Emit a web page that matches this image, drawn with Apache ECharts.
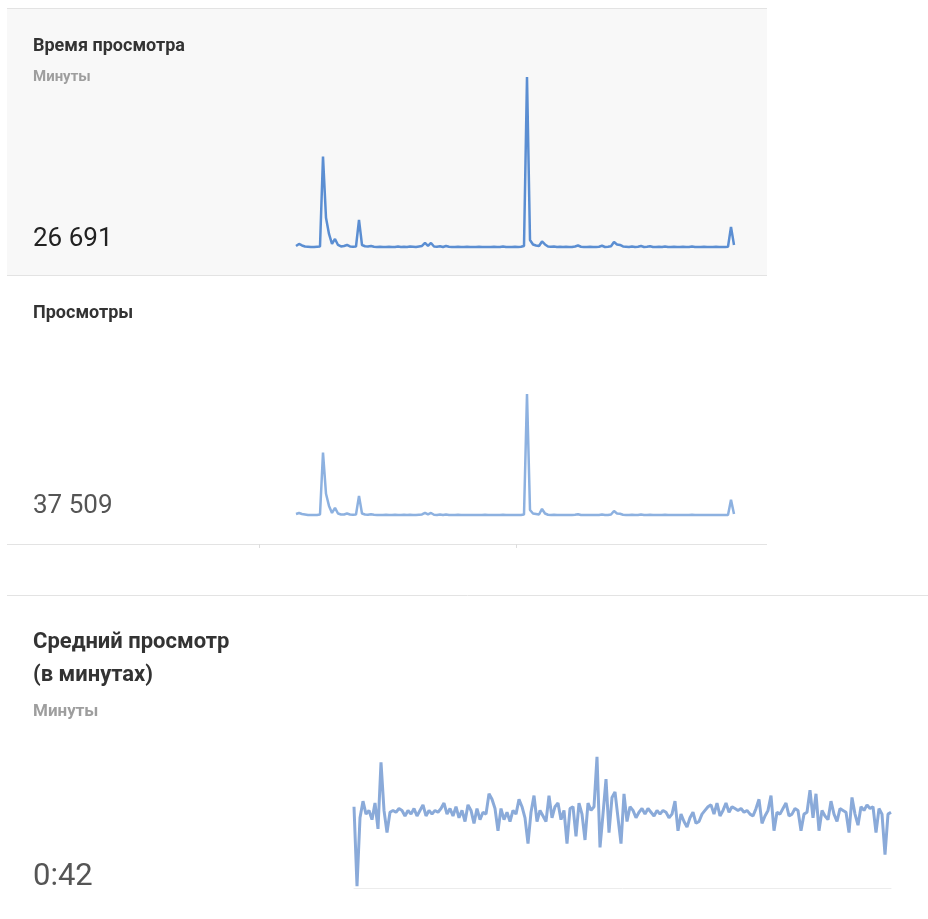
<!DOCTYPE html>
<html>
<head>
<meta charset="utf-8">
<script src="https://cdn.jsdelivr.net/npm/echarts@6/dist/echarts.min.js"></script>
<style>
  html, body { margin: 0; padding: 0; background: #fff; }
  #chart { width: 928px; height: 919px; }
</style>
</head>
<body>
<div id="chart"></div>
<script>
// время просмотра, минуты по дням
const watchMinutes = [
  40, 80, 50, 30, 25, 20, 20, 25, 30, 1820, 600, 280, 80, 180, 60, 30, 40, 60, 30, 25,
  30, 560, 60, 35, 30, 40, 25, 20, 25, 20, 20, 25, 20, 20, 30, 20, 25, 20, 30, 25,
  20, 30, 40, 100, 40, 100, 30, 25, 35, 20, 40, 25, 20, 20, 25, 20, 20, 25, 20, 20,
  20, 25, 20, 20, 20, 20, 25, 20, 20, 30, 20, 20, 20, 25, 20, 25, 40, 3400, 160, 70,
  50, 40, 130, 70, 30, 25, 30, 20, 25, 20, 25, 20, 20, 30, 50, 25, 20, 20, 25, 20,
  20, 25, 45, 20, 25, 35, 120, 70, 60, 30, 25, 20, 30, 20, 25, 40, 20, 25, 35, 20,
  20, 25, 20, 30, 20, 20, 25, 20, 20, 25, 20, 20, 30, 20, 20, 20, 25, 20, 20, 20,
  25, 20, 20, 20, 25, 420, 60
]

// просмотры по дням
const viewCounts = [
  40, 60, 40, 30, 20, 20, 20, 20, 30, 1260, 440, 200, 60, 160, 50, 30, 30, 50, 30, 25,
  30, 400, 50, 30, 25, 35, 25, 20, 20, 20, 25, 20, 20, 25, 20, 20, 25, 20, 25, 20,
  20, 25, 30, 60, 30, 60, 25, 20, 30, 20, 30, 20, 20, 20, 25, 20, 20, 20, 20, 20,
  20, 20, 20, 25, 20, 20, 20, 20, 20, 25, 20, 20, 20, 20, 20, 20, 30, 2420, 120, 50,
  40, 30, 140, 50, 25, 20, 25, 20, 20, 20, 20, 20, 20, 25, 35, 20, 20, 20, 20, 20,
  20, 20, 30, 20, 20, 30, 100, 50, 45, 25, 20, 20, 25, 20, 20, 30, 20, 20, 25, 20,
  20, 20, 20, 25, 20, 20, 20, 20, 20, 20, 20, 20, 25, 20, 20, 20, 20, 20, 20, 20,
  20, 20, 20, 20, 20, 320, 40
]

// средний просмотр, секунды
const avgViewSeconds = [
  44, 1, 38, 47, 40, 42, 37, 46, 32, 68, 42, 30, 41, 42, 41, 43, 42, 39, 42, 40,
  43, 39, 42, 45, 39, 42, 40, 42, 41, 43, 46, 40, 43, 39, 44, 38, 42, 36, 45, 42,
  35, 43, 37, 41, 40, 51, 48, 43, 31, 43, 37, 41, 36, 42, 40, 48, 44, 38, 24, 41,
  50, 36, 42, 39, 36, 50, 38, 44, 46, 37, 42, 24, 43, 44, 28, 46, 40, 26, 46, 42,
  44, 71, 22, 40, 59, 30, 49, 52, 38, 24, 51, 36, 44, 42, 38, 41, 43, 40, 43, 41,
  39, 42, 40, 42, 41, 38, 40, 47, 31, 40, 36, 33, 38, 41, 35, 36, 40, 42, 44, 45,
  40, 46, 39, 42, 46, 41, 44, 43, 42, 43, 41, 42, 40, 39, 43, 48, 35, 39, 42, 50,
  31, 41, 40, 43, 46, 39, 40, 43, 42, 31, 40, 41, 53, 38, 51, 31, 42, 39, 37, 47,
  40, 36, 43, 42, 41, 30, 49, 40, 34, 44, 42, 45, 43, 44, 30, 43, 40, 18, 40, 41
]

const FONT = 'Roboto, "Noto Sans", sans-serif'

const chart = echarts.init(document.getElementById('chart'))

function idx(arr) {
  return arr.map((_, i) => String(i))
}

function txt(x, y, text, size, color, weight) {
  return {
    type: 'text', left: x, top: y,
    style: { text, fontSize: size, fill: color, fontWeight: weight, fontFamily: FONT }
  }
}

function hline(x1, x2, y, color) {
  return {
    type: 'line',
    shape: { x1, y1: y, x2, y2: y },
    style: { stroke: color, lineWidth: 1 },
    silent: true
  }
}

const hiddenX = (gi, data, showLine) => ({
  type: 'category', gridIndex: gi, data, boundaryGap: false,
  axisLine: { show: !!showLine, lineStyle: { color: '#ececec', width: 1 } },
  axisTick: { show: false }, axisLabel: { show: false }, splitLine: { show: false }
})

const hiddenY = (gi, max) => ({
  type: 'value', gridIndex: gi, min: 0, max,
  axisLine: { show: false }, axisTick: { show: false },
  axisLabel: { show: false }, splitLine: { show: false }
})

chart.setOption({
  animation: false,
  backgroundColor: '#ffffff',
  grid: [
    { left: 296, width: 438, top: 77, height: 171 },
    { left: 296, width: 438, top: 394, height: 122 },
    { left: 354, width: 537, top: 755, height: 133 }
  ],
  xAxis: [
    hiddenX(0, idx(watchMinutes)),
    hiddenX(1, idx(viewCounts)),
    hiddenX(2, idx(avgViewSeconds), true)
  ],
  yAxis: [
    hiddenY(0, 3400),
    hiddenY(1, 2420),
    hiddenY(2, 72)
  ],
  graphic: [
    // фон верхней карточки
    {
      type: 'rect', z: -10, silent: true,
      shape: { x: 7, y: 9, width: 760, height: 266 },
      style: { fill: '#f8f8f8' }
    },
    hline(7, 767, 8.5, '#e3e3e3'),
    hline(7, 767, 275.5, '#e3e3e3'),
    hline(7, 767, 544.5, '#e3e3e3'),
    {
      type: 'line', silent: true,
      shape: { x1: 259.5, y1: 544, x2: 259.5, y2: 548 },
      style: { stroke: '#dddddd', lineWidth: 1 }
    },
    {
      type: 'line', silent: true,
      shape: { x1: 516.5, y1: 544, x2: 516.5, y2: 548 },
      style: { stroke: '#dddddd', lineWidth: 1 }
    },
    hline(7, 928, 595.5, '#e3e3e3'),

    txt(33, 37, 'Время просмотра', 18, '#333333', 'bold'),
    txt(33, 70, 'Минуты', 15, '#9e9e9e', 'bold'),
    txt(33, 226, '26 691', 26, '#222222', 'normal'),

    txt(33, 304, 'Просмотры', 18, '#333333', 'bold'),
    txt(33, 493, '37 509', 26, '#555555', 'normal'),

    txt(33, 631, 'Средний просмотр', 22, '#333333', 'bold'),
    txt(33, 664, '(в минутах)', 22, '#333333', 'bold'),
    txt(33, 703, 'Минуты', 17, '#9e9e9e', 'bold'),
    txt(33, 862, '0:42', 31, '#555555', 'normal')
  ],
  series: [
    {
      type: 'line', xAxisIndex: 0, yAxisIndex: 0, data: watchMinutes,
      showSymbol: false, lineStyle: { color: '#5b8ed2', width: 2.5 }
    },
    {
      type: 'line', xAxisIndex: 1, yAxisIndex: 1, data: viewCounts,
      showSymbol: false, lineStyle: { color: '#8db1e0', width: 2.5 }
    },
    {
      type: 'line', xAxisIndex: 2, yAxisIndex: 2, data: avgViewSeconds,
      showSymbol: false, lineStyle: { color: '#8aaad9', width: 3 }
    }
  ]
})
</script>
</body>
</html>
